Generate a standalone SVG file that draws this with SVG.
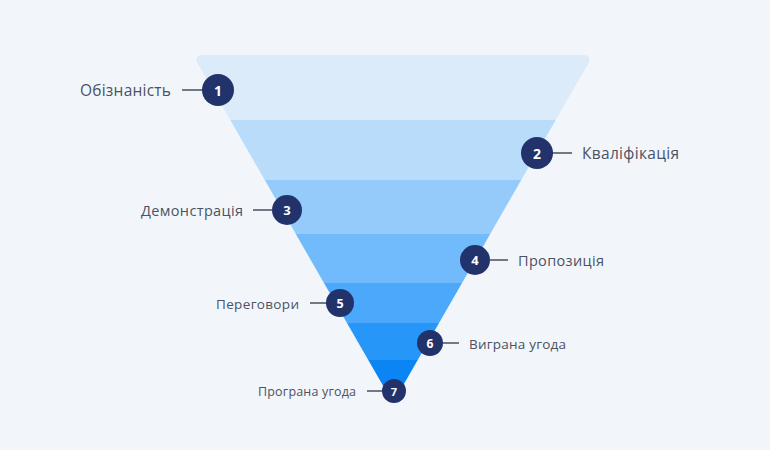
<svg xmlns="http://www.w3.org/2000/svg" width="770" height="450" viewBox="0 0 770 450">
<defs>
<style>
.lbl{font-family:"Open Sans","Noto Sans","Liberation Sans",sans-serif;fill:#4b5263;dominant-baseline:central}
.num{font-family:"Open Sans","Noto Sans","Liberation Sans",sans-serif;fill:#ffffff;font-weight:700;text-anchor:middle;dominant-baseline:central}
.dot{fill:#22336b}
.con{stroke:#2b3548;stroke-width:1.3;fill:none}
</style>
<clipPath id="funnelClip">
<path d="M198,64 Q193,55 203,55 L583,55 Q593,55 588,64 L393,403 Z"/>
</clipPath>
</defs>
<rect width="770" height="450" fill="#f2f6fb"/>
<g id="funnel" clip-path="url(#funnelClip)">
<rect x="180" y="50" width="420" height="70" fill="#dbebfa"/>
<rect x="180" y="120" width="420" height="60" fill="#b9dcfb"/>
<rect x="180" y="180" width="420" height="54" fill="#95cbfb"/>
<rect x="180" y="234" width="420" height="49" fill="#71bafc"/>
<rect x="180" y="283" width="420" height="40" fill="#4ba8fb"/>
<rect x="180" y="323" width="420" height="37" fill="#2696f9"/>
<rect x="180" y="360" width="420" height="50" fill="#0c85f4"/>
</g>
<g id="connectors">
<line class="con" x1="182" y1="90" x2="203" y2="90"/>
<line class="con" x1="552" y1="153" x2="572" y2="153"/>
<line class="con" x1="253" y1="210" x2="272" y2="210"/>
<line class="con" x1="490" y1="260" x2="508" y2="260"/>
<line class="con" x1="310" y1="303" x2="327" y2="303"/>
<line class="con" x1="442" y1="343" x2="459" y2="343"/>
<line class="con" x1="367" y1="391" x2="383" y2="391"/>
</g>
<g id="stage1">
<circle class="dot" cx="218" cy="90" r="16"/>
<text class="num" x="218" y="90" font-size="14">1</text>
<text class="lbl" x="171" y="90" font-size="15.5" text-anchor="end" textLength="91" lengthAdjust="spacing">Обізнаність</text>
</g>
<g id="stage2">
<circle class="dot" cx="537" cy="153" r="16"/>
<text class="num" x="537" y="153" font-size="14">2</text>
<text class="lbl" x="582" y="153" font-size="15.5" textLength="97" lengthAdjust="spacing">Кваліфікація</text>
</g>
<g id="stage3">
<circle class="dot" cx="287" cy="210" r="15"/>
<text class="num" x="287" y="210" font-size="13">3</text>
<text class="lbl" x="243" y="210" font-size="14.5" text-anchor="end" textLength="102" lengthAdjust="spacing">Демонстрація</text>
</g>
<g id="stage4">
<circle class="dot" cx="475" cy="260" r="15"/>
<text class="num" x="475" y="260" font-size="13">4</text>
<text class="lbl" x="518" y="260" font-size="14.5" textLength="86" lengthAdjust="spacing">Пропозиція</text>
</g>
<g id="stage5">
<circle class="dot" cx="340" cy="303" r="14"/>
<text class="num" x="340" y="303" font-size="12.5">5</text>
<text class="lbl" x="299" y="304" font-size="13.5" text-anchor="end" textLength="83" lengthAdjust="spacing">Переговори</text>
</g>
<g id="stage6">
<circle class="dot" cx="430" cy="343" r="13"/>
<text class="num" x="430" y="343" font-size="12">6</text>
<text class="lbl" x="469" y="344" font-size="13.5" textLength="97" lengthAdjust="spacing">Виграна угода</text>
</g>
<g id="stage7">
<circle class="dot" cx="394" cy="391" r="12"/>
<text class="num" x="394" y="391" font-size="11">7</text>
<text class="lbl" x="356" y="391" font-size="12.5" text-anchor="end" textLength="98" lengthAdjust="spacing">Програна угода</text>
</g>
</svg>
